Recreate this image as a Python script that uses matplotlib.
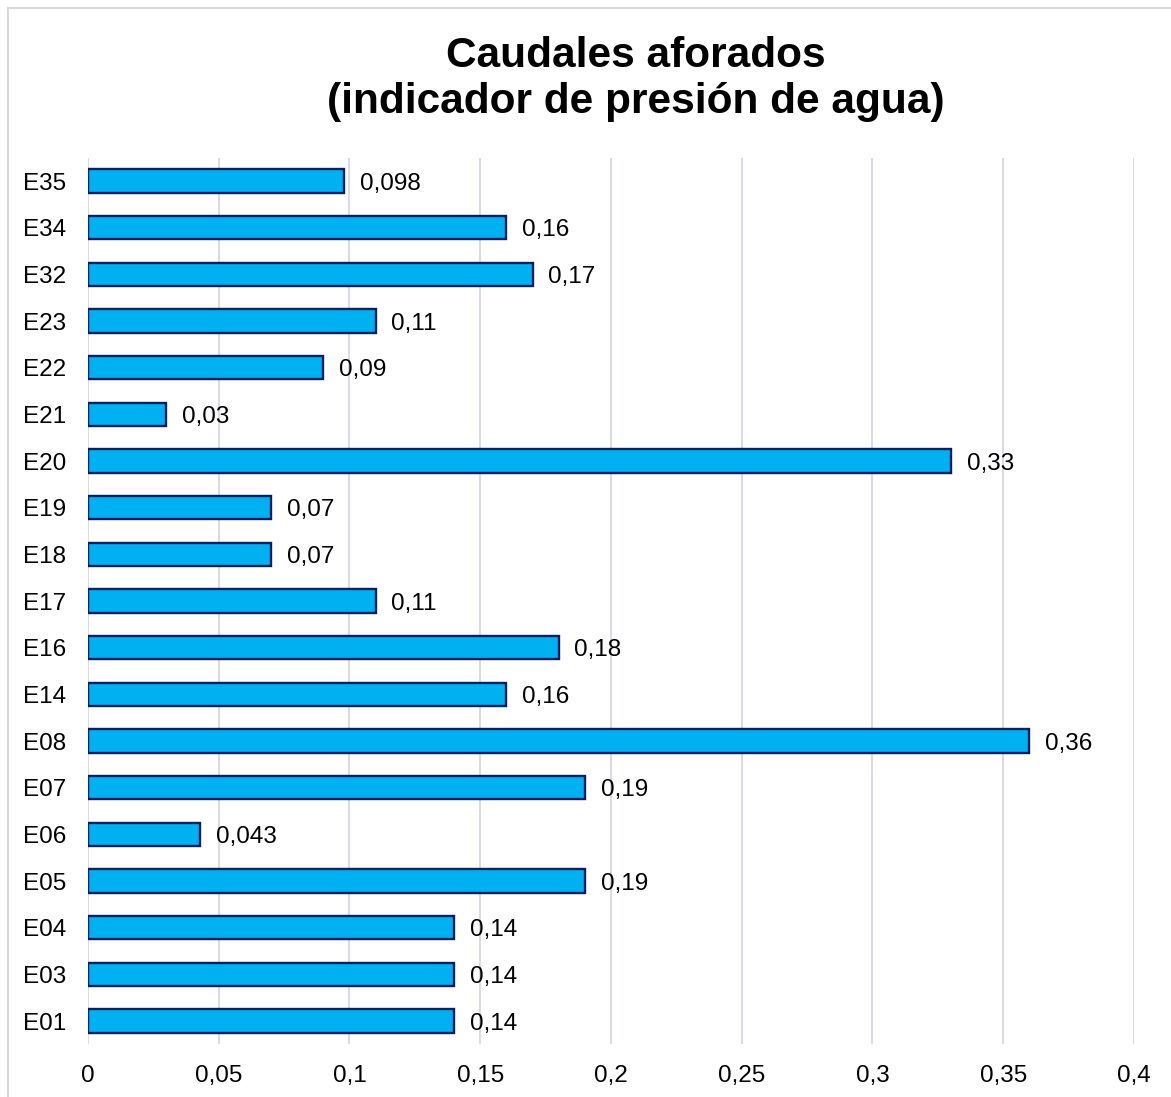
import numpy as np
import matplotlib
matplotlib.use("Agg")
import matplotlib.pyplot as plt
from matplotlib.lines import Line2D
from matplotlib.ticker import FuncFormatter

plt.rcParams["font.family"] = ["Liberation Sans", "DejaVu Sans"]

estaciones = ["E35", "E34", "E32", "E23", "E22", "E21", "E20", "E19", "E18", "E17",
              "E16", "E14", "E08", "E07", "E06", "E05", "E04", "E03", "E01"]
caudales = [0.098, 0.16, 0.17, 0.11, 0.09, 0.03, 0.33, 0.07, 0.07, 0.11,
            0.18, 0.16, 0.36, 0.19, 0.043, 0.19, 0.14, 0.14, 0.14]
xticks = [0, 0.05, 0.1, 0.15, 0.2, 0.25, 0.3, 0.35, 0.4]


def coma(v):
    return "{:g}".format(v).replace(".", ",")


W, H = 1171, 1097
fig = plt.figure(figsize=(W / 100, H / 100), dpi=100)
ax = fig.add_axes([0.0751, 0.048, 0.8933, 0.8082])

# marco gris del grafico (solo arriba e izquierda, el resto queda recortado)
bx, by = 7.5 / W, 1 - 7.5 / H
fig.add_artist(Line2D([bx, bx], [0, by], color="#D9D9D9", lw=1.5))
fig.add_artist(Line2D([bx, 1], [by, by], color="#D9D9D9", lw=1.5))

y = np.arange(len(estaciones))
ax.barh(y, caudales, height=0.5, color="#00B0F0", edgecolor="#002060",
        linewidth=1.7, zorder=3)
for yi, v in zip(y, caudales):
    ax.text(v + 0.006, yi, coma(v), va="center_baseline", ha="left",
            fontsize=17.5, color="#000000")

ax.set_xlim(0, 0.4)
ax.set_ylim(len(estaciones) - 0.5, -0.5)
ax.set_yticks(y)
ax.set_yticklabels(estaciones)
ax.set_xticks(xticks)
ax.xaxis.set_major_formatter(FuncFormatter(lambda v, p: coma(round(v, 2))))
ax.tick_params(axis="both", length=0, labelsize=17.5)
ax.tick_params(axis="y", pad=15.5)
ax.tick_params(axis="x", pad=15)
ax.grid(axis="x", color="#D9DBE6", linewidth=1.5, zorder=0)
for s in ax.spines.values():
    s.set_visible(False)

fig.text(0.543, 0.928, "Caudales aforados\n(indicador de presión de agua)",
         ha="center", va="center", fontsize=30.5, fontweight="bold",
         linespacing=1.18)

fig.savefig("out.png", dpi=100)
